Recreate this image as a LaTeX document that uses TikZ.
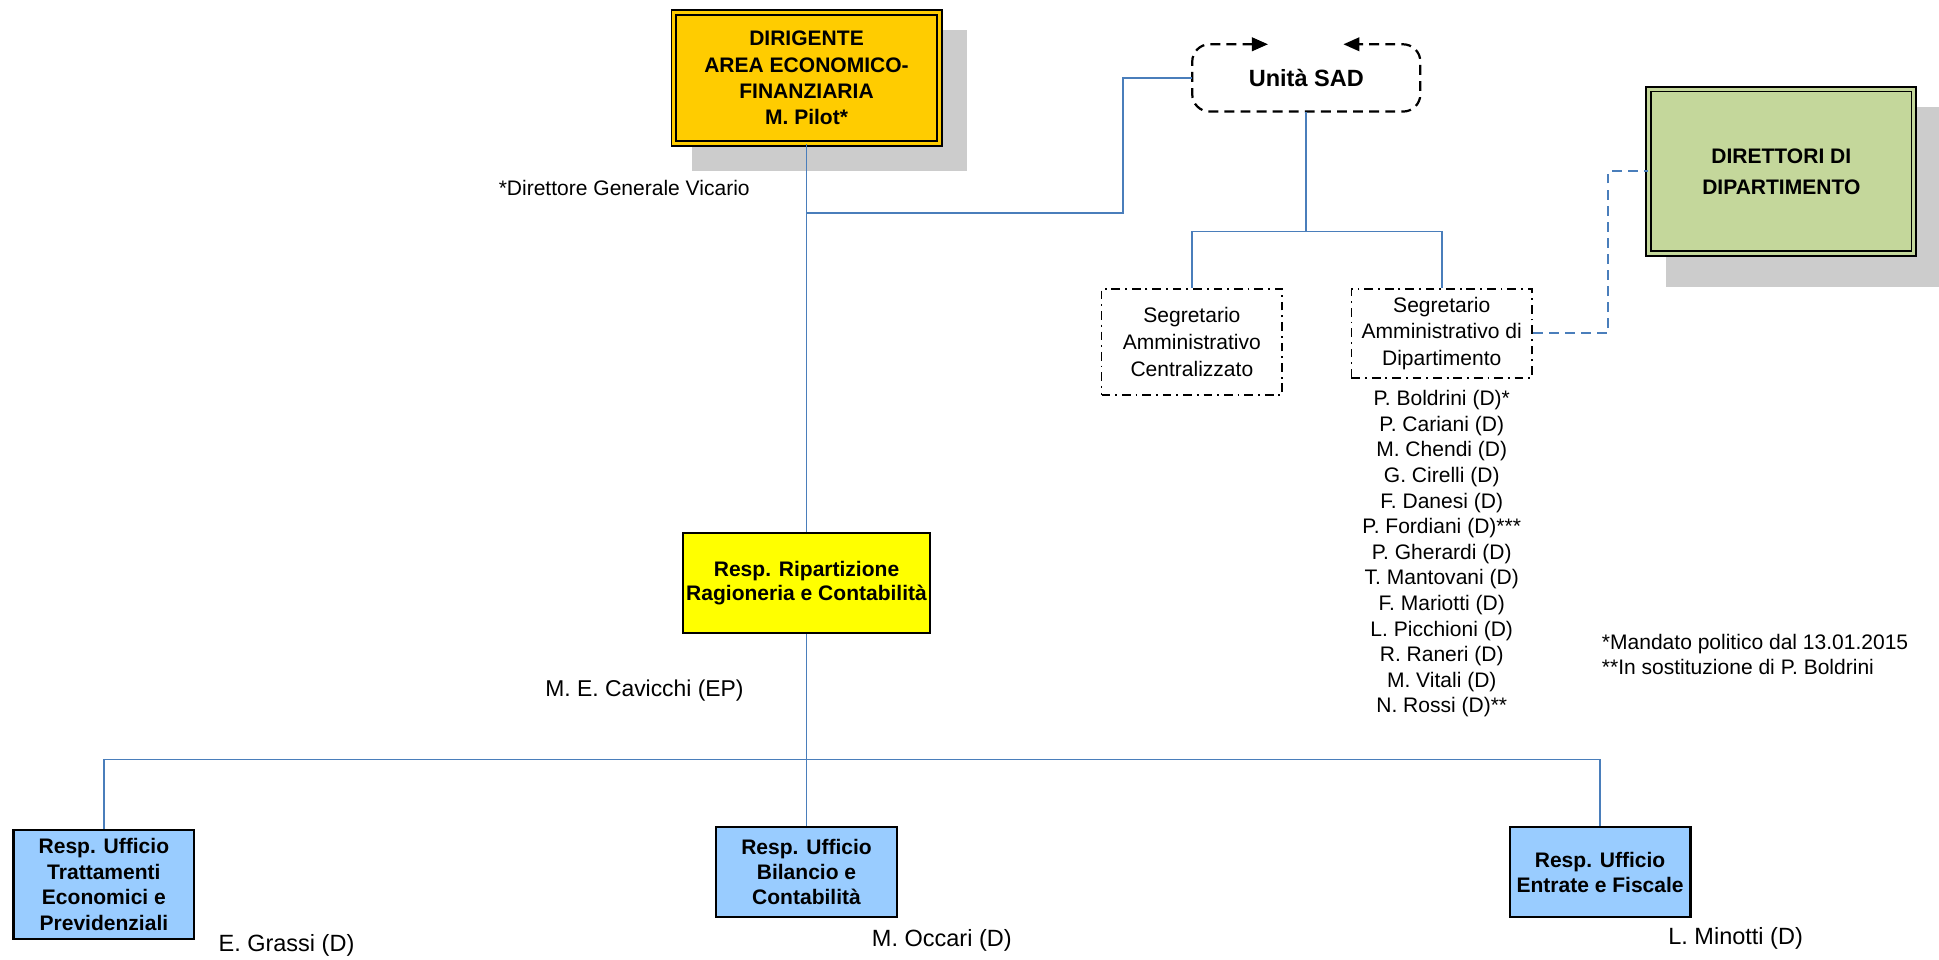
\documentclass[tikz,border=0pt]{standalone}
\usepackage{fontspec}
\setmainfont{Liberation Sans}
\usetikzlibrary{arrows.meta,calc,backgrounds}
\definecolor{linkblue}{RGB}{74,126,187}
\definecolor{goldfill}{RGB}{255,204,0}
\definecolor{yellowfill}{RGB}{255,255,0}
\definecolor{bluefill}{RGB}{153,204,255}
\definecolor{greenfill}{RGB}{196,215,155}
\definecolor{shadowgray}{RGB}{204,204,204}
\tikzset{
 txt/.style={font=\fontsize{17}{20.8}\selectfont, inner sep=0pt, align=center},
 bigtxt/.style={txt, font=\fontsize{19}{22}\selectfont},
 boldbox/.style={draw=black, line width=1.8pt, font=\fontsize{17}{20.8}\selectfont\bfseries, align=center, inner sep=2pt},
 dblbox/.style={draw=black, line width=1.5pt, double distance=2.5pt, align=center, inner sep=2pt},
 dashdotbox/.style={draw=black, line width=1.5pt, dash pattern=on 7pt off 4pt on 1.5pt off 4pt, align=center, inner sep=1pt},
 link/.style={draw=linkblue, line width=1.5pt},
 linkdash/.style={link, dash pattern=on 8pt off 5pt},
 sadline/.style={draw=black, line width=1.8pt, dash pattern=on 8pt off 5pt, rounded corners=14pt},
}
\begin{document}
\begin{tikzpicture}[x=1pt,y=-1pt]
\useasboundingbox (0,0) rectangle (1567.5,775.3);

% top boxes
\node[dblbox, fill=goldfill, double=goldfill, minimum width=214.4pt, minimum height=105.5pt,
      font=\fontsize{17}{21.2}\selectfont\bfseries] (dir) at (652,63)
      {DIRIGENTE\\AREA ECONOMICO-\\FINANZIARIA\\M. Pilot*};
\node[dblbox, fill=greenfill, double=greenfill, minimum width=214.4pt, minimum height=133pt,
      font=\fontsize{17}{25}\selectfont\bfseries] (dirt) at (1440,138.5)
      {DIRETTORI DI\\DIPARTIMENTO};
\node[font=\fontsize{19}{22}\selectfont\bfseries, minimum width=184pt, minimum height=54pt, inner sep=0pt] (sad) at (1056,63) {Unità SAD};
\draw[sadline, {Triangle[length=13pt,width=11pt]}-{Triangle[length=13pt,width=11pt]}]
  ($(sad.north)+(-31,0)$) -- (sad.north west) -- (sad.south west) -- (sad.south east) -- (sad.north east) -- ($(sad.north)+(30,0)$);

% shadows
\begin{scope}[on background layer]
\fill[shadowgray] ($(dir.north west)+(15,15)$) rectangle ($(dir.south east)+(22,22)$);
\fill[shadowgray] ($(dirt.north west)+(15,15)$) rectangle ($(dirt.south east)+(21,26)$);
\end{scope}

% secretary boxes
\node[dashdotbox, minimum width=146pt, minimum height=86pt, font=\fontsize{17}{22}\selectfont] (sc) at (963.5,276.5)
  {Segretario\\Amministrativo\\Centralizzato};
\node[dashdotbox, minimum width=146pt, minimum height=72pt, font=\fontsize{17}{21.3}\selectfont] (sd) at (1165.5,269.5)
  {Segretario\\Amministrativo di\\Dipartimento};

% middle and bottom boxes
\node[boldbox, fill=yellowfill, minimum width=200pt, minimum height=81pt, font=\fontsize{17}{19.5}\selectfont\bfseries] (rip) at (652,471.5)
  {Resp. Ripartizione\\Ragioneria e Contabilità};
\node[boldbox, fill=bluefill, minimum width=146pt, minimum height=88.5pt] (tr) at (84,715)
  {Resp. Ufficio\\Trattamenti\\Economici e\\Previdenziali};
\node[boldbox, fill=bluefill, minimum width=146pt, minimum height=72.5pt, font=\fontsize{17}{20.2}\selectfont\bfseries] (bil) at (652,705)
  {Resp. Ufficio\\Bilancio e\\Contabilità};
\node[boldbox, fill=bluefill, minimum width=146pt, minimum height=72.5pt, font=\fontsize{17}{20.2}\selectfont\bfseries] (en) at (1293.5,705)
  {Resp. Ufficio\\Entrate e Fiscale};

% labels
\node[txt, anchor=west] (vic) at (403,152) {*Direttore Generale Vicario};
\node[txt, anchor=west, font=\fontsize{18.5}{22}\selectfont] (cav) at (440.6,558) {M. E. Cavicchi (EP)};
\node[bigtxt, anchor=west] (gra) at (176.5,764) {E. Grassi (D)};
\node[bigtxt, anchor=west] (occ) at (704.7,760) {M. Occari (D)};
\node[bigtxt, anchor=west] (mino) at (1348.5,759) {L. Minotti (D)};
\node[txt, align=left, anchor=west, font=\fontsize{17}{20.2}\selectfont] (notes) at (1294.8,529.4)
  {*Mandato politico dal 13.01.2015\\**In sostituzione di P. Boldrini};
\node[txt, font=\fontsize{17}{20.7}\selectfont] (names) at (1165.5,447.7)
  {P. Boldrini (D)*\\P. Cariani (D)\\M. Chendi (D)\\G. Cirelli (D)\\F. Danesi (D)\\P. Fordiani (D)***\\P. Gherardi (D)\\T. Mantovani (D)\\F. Mariotti (D)\\L. Picchioni (D)\\R. Raneri (D)\\M. Vitali (D)\\N. Rossi (D)**};

% connectors
\draw[link] (dir.south) -- (rip.north);
\coordinate (j1) at (652,172);
\draw[link] (j1) -| ($(sad.west)+(-56,0)$) -- (sad.west);
\coordinate (j2) at ($(sad.south)+(0,97)$);
\draw[link] (sad.south) -- (j2);
\draw[link] (sc.north) |- (j2) -| (sd.north);
\draw[linkdash] (sd.east) -| ($(dirt.west)+(-32,0)$) -- (dirt.west);
\coordinate (j3) at (652,614);
\draw[link] (rip.south) -- (bil.north);
\draw[link] (tr.north) |- (j3) -| (en.north);
\end{tikzpicture}
\end{document}
